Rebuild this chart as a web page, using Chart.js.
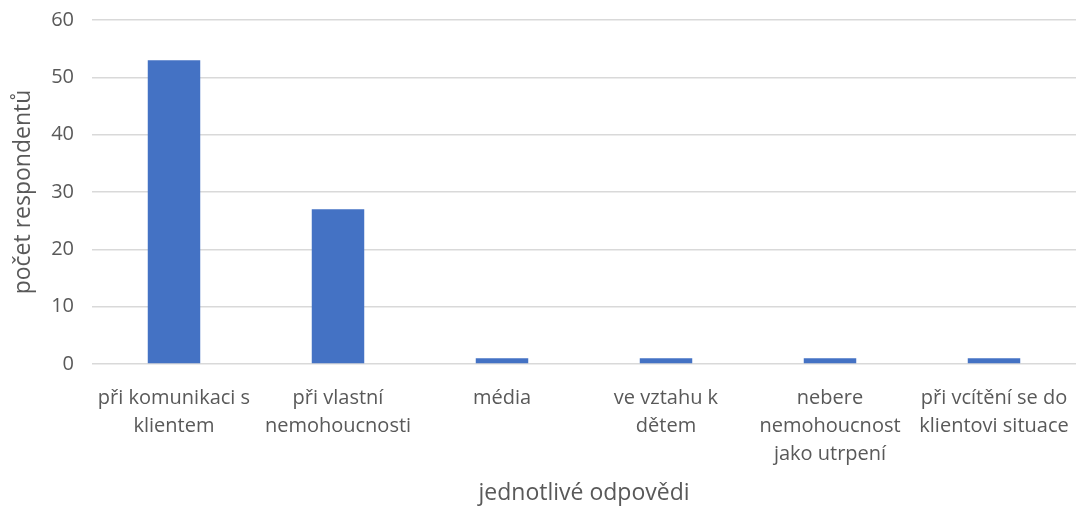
<!doctype html>
<html>

<head>
	<title>Bar Chart</title>
	<script src="https://cdn.jsdelivr.net/npm/chart.js@4/dist/chart.umd.min.js"></script>
	<style>
		html, body { margin: 0; padding: 0; background: #fff; }
		#wrap { width: 1076px; height: 507px; }
	</style>
</head>

<body>
	<div id="wrap">
		<canvas id="canvas"></canvas>
	</div>
	<script>
		var categories = [
			['při komunikaci s', 'klientem'],
			['při vlastní', 'nemohoucnosti'],
			['média'],
			['ve vztahu k', 'dětem'],
			['nebere', 'nemohoucnost', 'jako utrpení'],
			['při vcítění se do', 'klientovi situace']
		];
		var values = [53, 27, 1, 1, 1, 1];
		var yTicks = [0, 10, 20, 30, 40, 50, 60];

		var textColor = '#595959';
		var font = 'Open Sans';

		var config = {
			type: 'bar',
			data: {
				labels: categories,
				datasets: [{
					data: values,
					backgroundColor: '#4472C4',
					categoryPercentage: 1,
					barPercentage: 0.32
				}]
			},
			options: {
				responsive: true,
				maintainAspectRatio: false,
				animation: false,
				layout: { padding: { top: 20, right: 0, left: 0, bottom: 0 } },
				plugins: {
					legend: { display: false },
					tooltip: { enabled: false }
				},
				scales: {
					x: {
						grid: { display: false },
						border: { display: false },
						ticks: {
							color: textColor,
							maxRotation: 0,
							autoSkip: false,
							padding: 12,
							font: { family: font, size: 20, lineHeight: 1.4 }
						},
						title: {
							display: true,
							text: 'jednotlivé odpovědi',
							color: textColor,
							font: { family: font, size: 23 },
							padding: { top: 4, bottom: 0 }
						},
						afterFit: function(scale) {
							scale.height = 143;
							scale.paddingRight = 0;
						}
					},
					y: {
						min: 0,
						max: 60,
						afterBuildTicks: function(scale) {
							scale.ticks = yTicks.map(function(v) { return { value: v }; });
						},
						grid: { color: '#d9d9d9', lineWidth: 1.5, drawTicks: false },
						border: { display: false },
						ticks: {
							color: textColor,
							padding: 18,
							font: { family: font, size: 20 }
						},
						title: {
							display: true,
							text: 'počet respondentů',
							color: textColor,
							font: { family: font, size: 23 },
							padding: { top: 10, bottom: 4 }
						},
						afterFit: function(scale) {
							scale.width = 92;
							scale.paddingTop = 0;
							scale.paddingBottom = 0;
						}
					}
				}
			}
		};

		window.onload = function() {
			window.myBar = new Chart(document.getElementById('canvas'), config);
		};
	</script>
</body>

</html>
